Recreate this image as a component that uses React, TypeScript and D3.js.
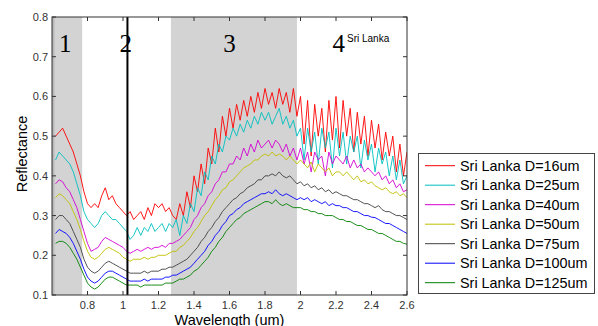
import React from "react";
import * as d3 from "d3";

// wavelength grid (um), 0.62 .. 2.60 every 0.02
const wavelengths = d3.range(0, 100).map((i) => +(0.62 + i * 0.02).toFixed(2));

const seriesNames = [
  "Sri Lanka D=16um",
  "Sri Lanka D=25um",
  "Sri Lanka D=40um",
  "Sri Lanka D=50um",
  "Sri Lanka D=75um",
  "Sri Lanka D=100um",
  "Sri Lanka D=125um",
];
const seriesColors = ["#ff0000", "#00bfbf", "#d400d4", "#bfbf00", "#404040", "#0000ff", "#008000"];

const d16 = [
  0.50, 0.51, 0.52, 0.50, 0.48, 0.46, 0.43, 0.40, 0.36, 0.33,
  0.32, 0.33, 0.32, 0.35, 0.37, 0.34, 0.35, 0.33, 0.32, 0.31,
  0.30, 0.31, 0.29, 0.30, 0.31, 0.29, 0.32, 0.30, 0.33, 0.32,
  0.33, 0.31, 0.32, 0.30, 0.29, 0.33, 0.30, 0.36, 0.32, 0.40,
  0.36, 0.43, 0.38, 0.47, 0.43, 0.52, 0.46, 0.55, 0.50, 0.57,
  0.52, 0.58, 0.54, 0.59, 0.55, 0.60, 0.56, 0.61, 0.57, 0.62,
  0.58, 0.61, 0.57, 0.62, 0.58, 0.61, 0.56, 0.62, 0.55, 0.60,
  0.48, 0.59, 0.45, 0.58, 0.50, 0.57, 0.46, 0.59, 0.49, 0.60,
  0.47, 0.59, 0.50, 0.57, 0.46, 0.56, 0.48, 0.55, 0.45, 0.54,
  0.47, 0.53, 0.44, 0.51, 0.45, 0.50, 0.41, 0.48, 0.40, 0.46,
];
const d25 = [
  0.44, 0.46, 0.45, 0.44, 0.43, 0.41, 0.38, 0.35, 0.31, 0.29,
  0.28, 0.27, 0.28, 0.30, 0.31, 0.30, 0.29, 0.29, 0.28, 0.27,
  0.26, 0.24, 0.25, 0.27, 0.25, 0.27, 0.26, 0.28, 0.26, 0.27,
  0.28, 0.26, 0.28, 0.27, 0.29, 0.25, 0.30, 0.28, 0.33, 0.31,
  0.37, 0.35, 0.41, 0.39, 0.45, 0.43, 0.48, 0.46, 0.50, 0.49,
  0.52, 0.50, 0.53, 0.51, 0.54, 0.52, 0.55, 0.53, 0.56, 0.54,
  0.56, 0.53, 0.55, 0.57, 0.53, 0.55, 0.52, 0.54, 0.50, 0.52,
  0.44, 0.52, 0.46, 0.51, 0.43, 0.52, 0.47, 0.51, 0.42, 0.52,
  0.45, 0.51, 0.43, 0.50, 0.46, 0.50, 0.42, 0.49, 0.44, 0.48,
  0.41, 0.47, 0.43, 0.46, 0.40, 0.45, 0.39, 0.44, 0.38, 0.40,
];
const d40 = [
  0.38, 0.39, 0.385, 0.37, 0.36, 0.34, 0.32, 0.29, 0.26, 0.23,
  0.21, 0.215, 0.22, 0.235, 0.245, 0.24, 0.235, 0.23, 0.225, 0.22,
  0.21, 0.205, 0.21, 0.215, 0.21, 0.215, 0.22, 0.215, 0.22, 0.22,
  0.225, 0.22, 0.23, 0.23, 0.235, 0.24, 0.25, 0.26, 0.27, 0.29,
  0.30, 0.32, 0.33, 0.35, 0.36, 0.38, 0.39, 0.41, 0.41, 0.43,
  0.43, 0.45, 0.44, 0.47, 0.45, 0.48, 0.46, 0.49, 0.47, 0.48,
  0.49, 0.47, 0.49, 0.48, 0.46, 0.48, 0.45, 0.47, 0.44, 0.47,
  0.43, 0.46, 0.41, 0.46, 0.44, 0.45, 0.40, 0.46, 0.43, 0.45,
  0.44, 0.43, 0.45, 0.42, 0.44, 0.42, 0.43, 0.41, 0.42, 0.41,
  0.40, 0.41, 0.39, 0.40, 0.38, 0.39, 0.37, 0.38, 0.36, 0.365,
];
const d50 = [
  0.345, 0.355, 0.35, 0.34, 0.33, 0.31, 0.29, 0.265, 0.235, 0.21,
  0.195, 0.19, 0.195, 0.205, 0.215, 0.22, 0.215, 0.21, 0.205, 0.195,
  0.19, 0.185, 0.19, 0.19, 0.19, 0.195, 0.19, 0.195, 0.195, 0.20,
  0.20, 0.20, 0.205, 0.21, 0.21, 0.22, 0.225, 0.235, 0.245, 0.26,
  0.27, 0.285, 0.30, 0.31, 0.325, 0.34, 0.35, 0.365, 0.37, 0.385,
  0.39, 0.40, 0.41, 0.42, 0.425, 0.43, 0.44, 0.44, 0.45, 0.455,
  0.45, 0.46, 0.45, 0.455, 0.45, 0.44, 0.45, 0.44, 0.43, 0.44,
  0.43, 0.42, 0.435, 0.41, 0.43, 0.42, 0.41, 0.42, 0.40, 0.41,
  0.41, 0.40, 0.41, 0.40, 0.39, 0.40, 0.385, 0.39, 0.38, 0.385,
  0.375, 0.37, 0.365, 0.37, 0.36, 0.355, 0.36, 0.35, 0.355, 0.345,
];
const d75 = [
  0.29, 0.30, 0.30, 0.29, 0.28, 0.26, 0.24, 0.22, 0.19, 0.17,
  0.16, 0.155, 0.16, 0.17, 0.18, 0.185, 0.18, 0.175, 0.17, 0.165,
  0.16, 0.155, 0.155, 0.155, 0.155, 0.16, 0.155, 0.16, 0.16, 0.16,
  0.165, 0.165, 0.17, 0.17, 0.175, 0.18, 0.185, 0.19, 0.20, 0.21,
  0.22, 0.235, 0.245, 0.26, 0.27, 0.285, 0.295, 0.31, 0.32, 0.33,
  0.34, 0.345, 0.355, 0.36, 0.37, 0.375, 0.38, 0.39, 0.39, 0.40,
  0.40, 0.405, 0.40, 0.41, 0.40, 0.395, 0.40, 0.39, 0.38, 0.385,
  0.375, 0.38, 0.37, 0.375, 0.365, 0.37, 0.36, 0.365, 0.355, 0.36,
  0.355, 0.35, 0.35, 0.345, 0.34, 0.34, 0.335, 0.33, 0.33, 0.325,
  0.32, 0.325, 0.315, 0.31, 0.31, 0.305, 0.30, 0.30, 0.295, 0.29,
];
const d100 = [
  0.255, 0.265, 0.26, 0.255, 0.245, 0.23, 0.21, 0.19, 0.165, 0.145,
  0.135, 0.13, 0.135, 0.145, 0.155, 0.16, 0.16, 0.155, 0.15, 0.145,
  0.14, 0.135, 0.135, 0.135, 0.135, 0.14, 0.135, 0.14, 0.14, 0.14,
  0.14, 0.145, 0.145, 0.15, 0.15, 0.155, 0.16, 0.165, 0.17, 0.18,
  0.19, 0.20, 0.21, 0.225, 0.235, 0.25, 0.26, 0.275, 0.285, 0.30,
  0.305, 0.315, 0.32, 0.33, 0.335, 0.34, 0.345, 0.35, 0.355, 0.355,
  0.36, 0.355, 0.365, 0.355, 0.35, 0.355, 0.35, 0.345, 0.34, 0.345,
  0.34, 0.345, 0.335, 0.34, 0.335, 0.33, 0.335, 0.325, 0.33, 0.325,
  0.325, 0.32, 0.32, 0.315, 0.31, 0.31, 0.305, 0.30, 0.30, 0.296,
  0.295, 0.29, 0.285, 0.28, 0.28, 0.275, 0.27, 0.265, 0.26, 0.255,
];
const d125 = [
  0.23, 0.235, 0.235, 0.23, 0.22, 0.205, 0.19, 0.17, 0.15, 0.13,
  0.12, 0.115, 0.12, 0.13, 0.14, 0.145, 0.145, 0.14, 0.135, 0.13,
  0.125, 0.125, 0.125, 0.125, 0.12, 0.125, 0.125, 0.125, 0.125, 0.125,
  0.125, 0.13, 0.13, 0.13, 0.135, 0.14, 0.14, 0.145, 0.15, 0.16,
  0.165, 0.175, 0.185, 0.195, 0.21, 0.22, 0.235, 0.245, 0.26, 0.27,
  0.28, 0.29, 0.295, 0.305, 0.31, 0.315, 0.32, 0.325, 0.33, 0.335,
  0.335, 0.33, 0.34, 0.33, 0.325, 0.33, 0.325, 0.32, 0.32, 0.32,
  0.315, 0.315, 0.31, 0.31, 0.305, 0.305, 0.30, 0.30, 0.30, 0.295,
  0.29, 0.29, 0.285, 0.285, 0.28, 0.275, 0.275, 0.27, 0.265, 0.265,
  0.26, 0.255, 0.255, 0.25, 0.245, 0.24, 0.235, 0.235, 0.23, 0.228,
];
const seriesValues = [d16, d25, d40, d50, d75, d100, d125];

// shaded wavelength bands, marker line and region labels
const bands = [[0.6, 0.77], [1.27, 1.98]];
const markerLine = 1.025;
const regionLabels = [
  { text: "1", x: 0.675 },
  { text: "2", x: 1.015 },
  { text: "3", x: 1.6 },
  { text: "4", x: 2.215 },
];

const W = 598, H = 326;
const margin = { top: 17, right: 191, bottom: 31, left: 52 };
const iw = W - margin.left - margin.right;
const ih = H - margin.top - margin.bottom;
const font = "Arial, 'Liberation Sans', sans-serif";

export default function App() {
  const x = d3.scaleLinear().domain([0.6, 2.6]).range([0, iw]);
  const y = d3.scaleLinear().domain([0.1, 0.8]).range([ih, 0]);
  const line = d3.line<number>().x((_, i) => x(wavelengths[i])).y((d) => y(d));
  const xTicks = d3.range(0.8, 2.61, 0.2).map((v) => +v.toFixed(1));
  const yTicks = d3.range(0.1, 0.81, 0.1).map((v) => +v.toFixed(1));

  return (
    <svg width={W} height={H} style={{ position: "absolute", left: 0, top: 0, background: "#fff" }}>
      <defs>
        <clipPath id="plot">
          <rect width={iw} height={ih} />
        </clipPath>
      </defs>
      <g transform={`translate(${margin.left},${margin.top})`}>
        {bands.map(([a, b], i) => (
          <rect key={i} x={x(a)} y={0} width={x(b) - x(a)} height={ih} fill="#d3d3d3" />
        ))}
        <rect x={0} y={0} width={2.5} height={ih} fill="#b9b9b9" />
        <g clipPath="url(#plot)">
          {seriesValues.map((vals, k) => (
            <path key={k} d={line(vals) || ""} fill="none" stroke={seriesColors[k]} strokeWidth={0.9} />
          ))}
        </g>
        <line x1={x(markerLine)} x2={x(markerLine)} y1={0} y2={ih} stroke="#000" strokeWidth={2} />
        {regionLabels.map((r) => (
          <text key={r.text} x={x(r.x)} y={y(0.712)} textAnchor="middle" fontFamily="'Liberation Serif', 'Times New Roman', serif" fontSize={25} fill="#000">
            {r.text}
          </text>
        ))}
        <text x={x(2.262)} y={y(0.737)} textAnchor="start" fontFamily={font} fontSize={10} fill="#000">
          Sri Lanka
        </text>

        {/* box and ticks */}
        <rect x={0} y={0} width={iw} height={ih} fill="none" stroke="#333" strokeWidth={1} />
        {xTicks.map((t) => (
          <g key={t}>
            <line x1={x(t)} x2={x(t)} y1={ih} y2={ih - 4} stroke="#333" />
            <line x1={x(t)} x2={x(t)} y1={0} y2={4} stroke="#333" />
            <text x={x(t)} y={ih + 14} textAnchor="middle" fontFamily={font} fontSize={11} fill="#333">
              {t}
            </text>
          </g>
        ))}
        {yTicks.map((t) => (
          <g key={t}>
            <line x1={0} x2={4} y1={y(t)} y2={y(t)} stroke="#333" />
            <line x1={iw} x2={iw - 4} y1={y(t)} y2={y(t)} stroke="#333" />
            <text x={-4} y={y(t) + 4} textAnchor="end" fontFamily={font} fontSize={11} fill="#333">
              {t}
            </text>
          </g>
        ))}
        <text x={iw / 2} y={ih + 30} textAnchor="middle" fontFamily={font} fontSize={14.5} fill="#000">
          Wavelength (um)
        </text>
        <text transform={`translate(-25,${ih / 2 - 2}) rotate(-90)`} textAnchor="middle" fontFamily={font} fontSize={14.5} fill="#000">
          Reflectance
        </text>
      </g>

      {/* legend */}
      <g transform="translate(418,153)">
        <rect x={0.5} y={0.5} width={176} height={140} fill="#fff" stroke="#444" />
        {seriesNames.map((name, k) => (
          <g key={name} transform={`translate(0,${12.7 + k * 19.5})`}>
            <line x1={7} x2={37} y1={0} y2={0} stroke={seriesColors[k]} strokeWidth={1} />
            <text x={42} y={5} fontFamily={font} fontSize={14.4} fill="#000">
              {name}
            </text>
          </g>
        ))}
      </g>
    </svg>
  );
}
